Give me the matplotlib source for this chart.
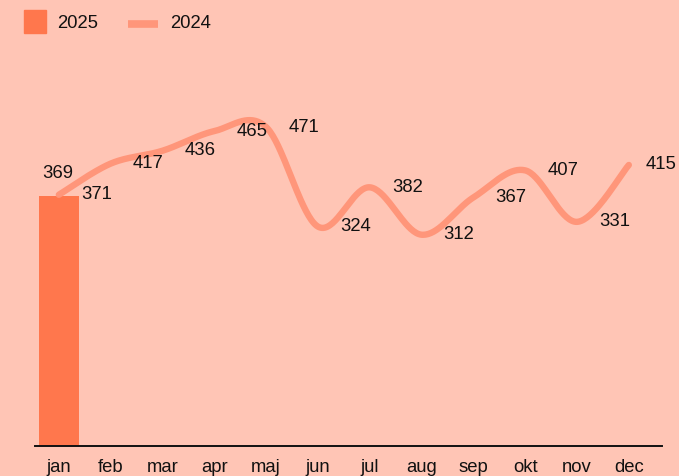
import numpy as np
import matplotlib
matplotlib.use("Agg")
import matplotlib.pyplot as plt
from matplotlib.patches import Rectangle
from matplotlib.lines import Line2D

months = ["jan", "feb", "mar", "apr", "maj", "jun", "jul", "aug", "sep", "okt", "nov", "dec"]
values_2025 = [369]
values_2024 = [371, 417, 436, 465, 471, 324, 382, 312, 367, 407, 331, 415]

BG = "#FFC5B5"
BAR = "#FF774D"
LINE = "#FF967A"
FS = 13.3

plt.rcParams['font.family'] = ['Liberation Sans', 'DejaVu Sans']

W, H = 679, 476
fig = plt.figure(figsize=(W / 100, H / 100), dpi=100)
fig.patch.set_facecolor(BG)

left, right, bottom, top = 35, 662, 446, 60
ax = fig.add_axes([left / W, (H - bottom) / H, (right - left) / W, (bottom - top) / H])
ax.set_facecolor(BG)

x = np.arange(len(months))
ax.set_xlim(-0.46, 11.64)
ax.set_ylim(0, 570)

# bars
xb = x[:len(values_2025)]
ax.bar(xb, values_2025, width=0.77, color=BAR, zorder=2)
for xi, v in zip(xb, values_2025):
    ax.annotate(str(v), (xi, v), xytext=(-1, 16.5), textcoords="offset points",
                ha="center", va="center", fontsize=FS, color="#111111")

# smooth Catmull-Rom line
def catmull_rom(xs, ys, n=40):
    xs = np.asarray(xs, float)
    ys = np.asarray(ys, float)
    px = np.concatenate([[xs[0]], xs, [xs[-1]]])
    py = np.concatenate([[ys[0]], ys, [ys[-1]]])
    outx, outy = [], []
    t = np.linspace(0, 1, n)
    for i in range(1, len(px) - 2):
        m1x = (px[i + 1] - px[i - 1]) / 2
        m2x = (px[i + 2] - px[i]) / 2
        m1y = (py[i + 1] - py[i - 1]) / 2
        m2y = (py[i + 2] - py[i]) / 2
        h00 = 2 * t**3 - 3 * t**2 + 1
        h10 = t**3 - 2 * t**2 + t
        h01 = -2 * t**3 + 3 * t**2
        h11 = t**3 - t**2
        outx.append(h00 * px[i] + h10 * m1x + h01 * px[i + 1] + h11 * m2x)
        outy.append(h00 * py[i] + h10 * m1y + h01 * py[i + 1] + h11 * m2y)
    return np.concatenate(outx), np.concatenate(outy)

sx, sy = catmull_rom(x, values_2024)
ax.plot(sx, sy, color=LINE, lw=4.6, solid_capstyle="round", zorder=3)

for i, (xi, v) in enumerate(zip(x, values_2024)):
    dx = 27 if i < len(values_2024) - 1 else 23.5
    ax.annotate(str(v), (xi, v), xytext=(dx, 0), textcoords="offset points",
                ha="center", va="center", fontsize=FS, color="#111111", zorder=4)

# axes styling
for s in ["top", "right", "left"]:
    ax.spines[s].set_visible(False)
ax.spines["bottom"].set_color("#111111")
ax.spines["bottom"].set_linewidth(1.4)
ax.set_yticks([])
ax.set_xticks(x)
ax.set_xticklabels(months, fontsize=FS, color="#111111")
ax.tick_params(axis="x", length=0, pad=9)

# legend (manual)
fig.add_artist(Rectangle((24 / W, (H - 33) / H), 22 / W, 23 / H,
                         transform=fig.transFigure, color=BAR))
fig.text(57 / W, (H - 23) / H, "2025", fontsize=FS, va="center", ha="left", color="#111111")
fig.add_artist(Line2D([128 / W, 158 / W], [(H - 23.5) / H] * 2,
                      transform=fig.transFigure, color=LINE, lw=5.5, solid_capstyle="butt"))
fig.text(170 / W, (H - 23) / H, "2024", fontsize=FS, va="center", ha="left", color="#111111")

fig.savefig("out.png", dpi=100, facecolor=BG)
